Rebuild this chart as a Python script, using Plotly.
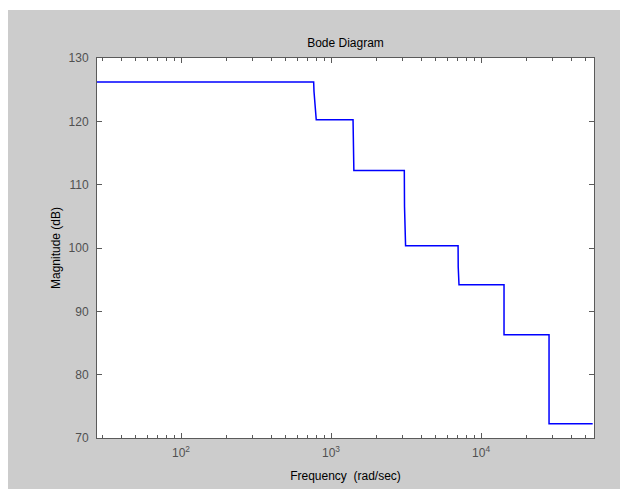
import plotly.graph_objects as go

# Magnitude response (piecewise levels with short transitions)
freq = [27.5, 766, 770, 783, 797,
        1402, 1405, 1420,
        3080, 3090, 3140,
        7030, 7045, 7130,
        14230, 14230,
        28400, 28400, 55500]
mag_db = [126.2, 126.2, 124.7, 121.8, 120.26,
          120.26, 116.4, 112.25,
          112.25, 106.5, 100.36,
          100.36, 97.0, 94.2,
          94.2, 86.3,
          86.3, 72.26, 72.26]

x_tick_vals = [1e2, 1e3, 1e4]
x_tick_text = ["10<sup>2</sup>", "10<sup>3</sup>", "10<sup>4</sup>"]
y_tick_vals = [70, 80, 90, 100, 110, 120, 130]

x_range_log = [1.44, 4.753]
y_range = [70, 130]

W, H = 620, 489
L, R, T, B = 97, 26, 58, 51

font_family = "Liberation Sans, Arial, sans-serif"
axis_col = "#5a5a5a"
tick_font_col = "#505050"

fig = go.Figure()
fig.add_trace(go.Scatter(
    x=freq, y=mag_db, mode="lines",
    line=dict(color="#0000ff", width=1.5),
    hoverinfo="skip", showlegend=False,
))

# grey figure panel with a thin white border at top/left, white axes box on top
px_w = W - L - R
px_h = H - T - B
def px2paper_x(px):
    return (px - L) / px_w
def px2paper_y(py):
    return (H - B - py) / px_h

fig.add_shape(type="rect", xref="paper", yref="paper",
              x0=px2paper_x(8), x1=px2paper_x(W + 5),
              y0=px2paper_y(H + 5), y1=px2paper_y(10),
              fillcolor="#cccccc", line_width=0, layer="below")
fig.add_shape(type="rect", xref="paper", yref="paper",
              x0=0, x1=1, y0=0, y1=1,
              fillcolor="white", line_width=0, layer="below")

fig.update_layout(
    width=W, height=H, autosize=False,
    margin=dict(l=L, r=R, t=T, b=B, pad=0),
    paper_bgcolor="white", plot_bgcolor="white",
    font=dict(family=font_family, size=12, color="black"),
    title=dict(text="Bode Diagram", x=(L + px_w / 2) / W, xanchor="center",
               y=1 - 43 / H, yanchor="middle", yref="container",
               font=dict(size=12, color="black")),
    showlegend=False,
)

fig.update_xaxes(
    type="log", range=x_range_log, automargin=False,
    tickvals=x_tick_vals, ticktext=x_tick_text,
    ticks="inside", ticklen=5, tickwidth=1, tickcolor=axis_col,
    minor=dict(ticks="inside", ticklen=3, tickwidth=1, tickcolor=axis_col,
               dtick="D1", showgrid=False),
    showline=True, linecolor=axis_col, linewidth=1, mirror="ticks",
    showgrid=False, zeroline=False,
    tickfont=dict(size=12, color=tick_font_col),
    ticklabelstandoff=4,
    title=dict(text="Frequency  (rad/sec)", font=dict(size=12, color="black"),
               standoff=12),
)
fig.update_yaxes(
    range=y_range, tickvals=y_tick_vals, automargin=False,
    ticks="inside", ticklen=5, tickwidth=1, tickcolor=axis_col,
    showline=True, linecolor=axis_col, linewidth=1, mirror="ticks",
    showgrid=False, zeroline=False,
    tickfont=dict(size=12, color=tick_font_col),
    ticklabelstandoff=5,
    title=dict(text="Magnitude (dB)", font=dict(size=12, color="black"),
               standoff=5),
)

fig.write_html("out.html")
